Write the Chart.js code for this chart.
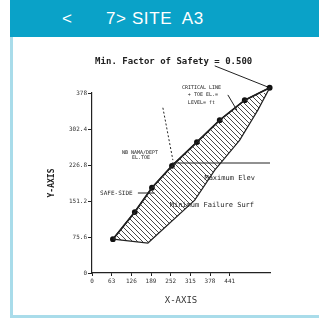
<!DOCTYPE html>
<html>
<head>
<meta charset="utf-8">
<script src="https://cdn.jsdelivr.net/npm/chart.js@4"></script>
<style>
    body { margin: 0; background: #fff; font-family: "Liberation Sans", Arial, sans-serif; }
    #frame { position: absolute; left: 10px; top: 0; width: 309px; height: 318px; }
    #header { height: 37px; background: #0aa2c8; color: #fff; position: relative; }
    #back { position: absolute; left: 52px; top: 9px; font-size: 17px; }
    #title { position: absolute; left: 96px; top: 9px; font-size: 17px; letter-spacing: 0.6px; white-space: pre; }
    #content { position: absolute; top: 37px; left: 0; right: 0; bottom: 0; border-left: 3px solid #a9dcea; border-bottom: 3px solid #a9dcea; }
    #chartBox { position: absolute; left: 0; top: 0; width: 306px; height: 278px; filter: blur(0.35px); }
</style>
</head>
<body>
<div id="frame">
    <div id="header"><span id="back">&lt;</span><span id="title">7> SITE  A3</span></div>
    <div id="content">
        <div id="chartBox"><canvas id="slopeChart" width="306" height="278"></canvas></div>
    </div>
</div>
<script>
// tick values
const xTicks = [0, 63, 126, 189, 252, 315, 378, 441];
const yTicks = [0, 75.6, 151.2, 226.8, 302.4, 378];

// upper edge of the failure band (dots on it)
const upperX = [67, 137, 192, 256, 336, 409, 489, 569];
const upperY = [71, 128, 179, 225, 275, 321, 363, 389];
// lower edge of the hatched band
const lowerX = [67, 179, 329, 393, 473, 531, 569];
const lowerY = [71, 63, 153, 216, 279, 342, 389];

// extra lines on the plot
const maxElevX = [256, 570];
const maxElevY = [231, 231];
const critLeaderX = [227, 259];
const critLeaderY = [347, 237];
const titleLeaderX = [393, 569];
const titleLeaderY = [435, 389];
const levelLeaderX = [435, 464];
const levelLeaderY = [374, 342];
const safeLeaderX = [147, 200];
const safeLeaderY = [168, 168];

// notes written on the plot
const noteText = ["Min. Factor of Safety = 0.500", "CRITICAL LINE", "+ TOE EL.=", "LEVEL= ft",
    "NB NAMA/DEPT", "EL.TOE", "SAFE-SIDE", "Maximum Elev", "Minimum Failure Surf"];
const noteX = [10, 288, 307, 307, 96, 128, 26, 360, 249];
const noteY = [443, 389, 374, 357, 252, 242, 168, 200, 143];
const noteSize = [9, 5, 5, 5, 5, 5, 6, 7, 7];

function pts(xs, ys) {
    return xs.map((x, i) => ({x: x, y: ys[i]}));
}

function hatch() {
    let c = document.createElement('canvas');
    c.width = 5; c.height = 5;
    let g = c.getContext('2d');
    g.strokeStyle = '#333';
    g.lineWidth = 0.9;
    g.beginPath();
    g.moveTo(0, 0); g.lineTo(5, 5);
    g.moveTo(-1, 4); g.lineTo(1, 6);
    g.moveTo(4, -1); g.lineTo(6, 1);
    g.stroke();
    return g.createPattern(c, 'repeat');
}

let band = pts(upperX, upperY).concat(pts(lowerX, lowerY).reverse());

function line(data, dash) {
    return {data: data, borderColor: '#222', borderWidth: 1, borderDash: dash || [],
        pointRadius: 0, showLine: true, fill: false, clip: false};
}

const notesPlugin = {
    id: 'notes',
    afterDatasetsDraw(chart) {
        let ctx = chart.ctx;
        let xs = chart.scales.x, ys = chart.scales.y;
        ctx.save();
        ctx.fillStyle = '#222';
        ctx.textBaseline = 'middle';
        noteText.forEach((t, i) => {
            ctx.font = (i == 0 ? 'bold ' : '') + noteSize[i] + 'px "DejaVu Sans Mono", monospace';
            ctx.fillText(t, xs.getPixelForValue(noteX[i]), ys.getPixelForValue(noteY[i]));
        });
        ctx.restore();
    }
};

new Chart('slopeChart', {
    type: 'scatter',
    data: {
        datasets: [
            {data: band, borderColor: '#222', borderWidth: 1.2, backgroundColor: hatch(),
                fill: 'shape', showLine: true, pointRadius: 0, clip: false},
            {data: pts(upperX, upperY), pointRadius: 2, pointBackgroundColor: '#111',
                pointBorderColor: '#111', showLine: true, borderColor: '#111', borderWidth: 1.8, clip: false},
            line(pts(maxElevX, maxElevY)),
            line(pts(critLeaderX, critLeaderY), [2, 2]),
            line(pts(titleLeaderX, titleLeaderY)),
            line(pts(levelLeaderX, levelLeaderY)),
            line(pts(safeLeaderX, safeLeaderY))
        ]
    },
    options: {
        responsive: false,
        animation: false,
        layout: {padding: {left: 34, right: 49, top: 56, bottom: 8}},
        plugins: {legend: {display: false}, tooltip: {enabled: false}},
        scales: {
            x: {
                min: 0, max: 570,
                afterBuildTicks: s => { s.ticks = xTicks.map(v => ({value: v})); },
                afterFit: s => { s.height = 34; },
                border: {color: '#222', width: 1.2},
                grid: {drawOnChartArea: false, tickLength: 3, color: '#222'},
                ticks: {autoSkip: false, maxRotation: 0, padding: 2, color: '#333',
                    font: {size: 6, family: 'DejaVu Sans Mono'}},
                title: {display: true, text: 'X-AXIS', color: '#333', padding: 1,
                    font: {size: 9, family: 'DejaVu Sans Mono'}}
            },
            y: {
                min: 0, max: 378,
                afterBuildTicks: s => { s.ticks = yTicks.map(v => ({value: v})); },
                afterFit: s => { s.width = 45; },
                border: {color: '#222', width: 1.2},
                grid: {drawOnChartArea: false, tickLength: 4, color: '#222'},
                ticks: {padding: 1, color: '#333', font: {size: 6, family: 'DejaVu Sans Mono'}},
                title: {display: true, text: 'Y-AXIS', color: '#222', padding: 0,
                    font: {size: 8, weight: 'bold', family: 'DejaVu Sans Mono'}}
            }
        }
    },
    plugins: [notesPlugin]
});
</script>
</body>
</html>
